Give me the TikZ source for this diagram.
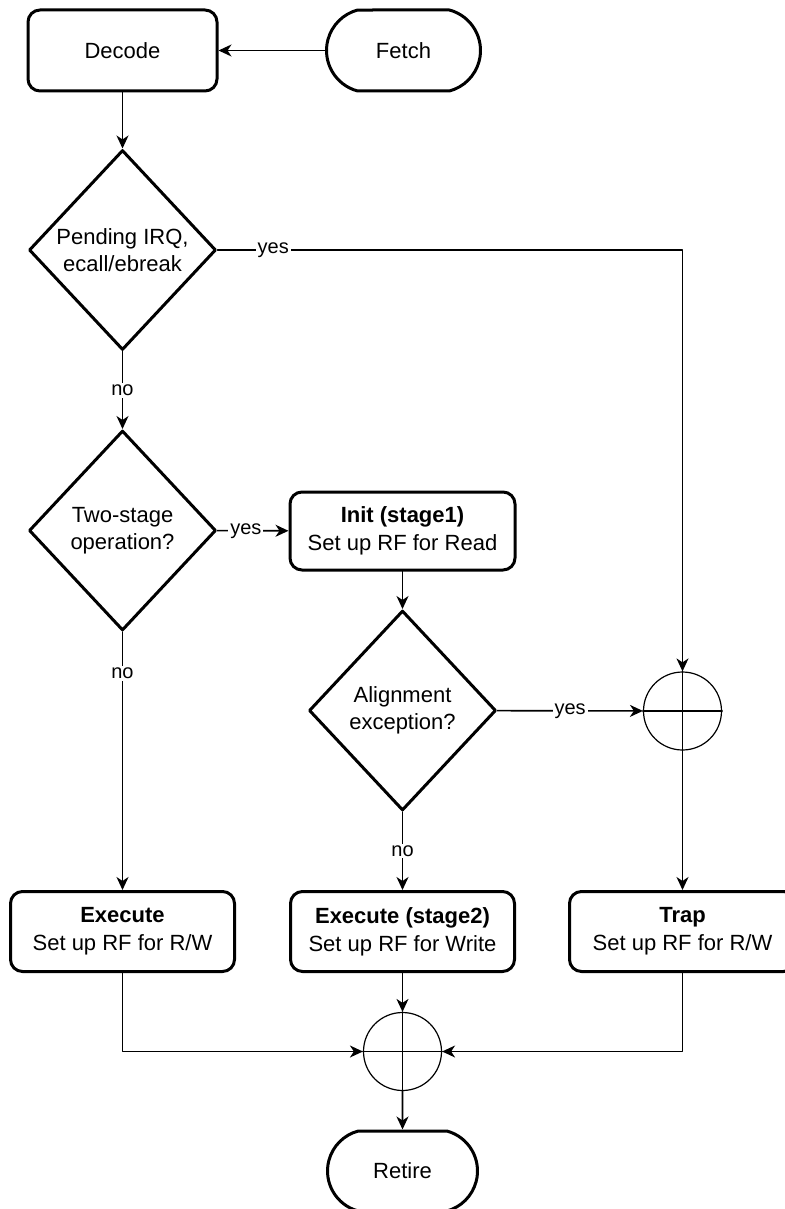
\documentclass[tikz,border=0pt]{standalone}
\usepackage{fontspec}
\setmainfont{Liberation Sans}
\usetikzlibrary{shapes.geometric,shapes.misc,arrows.meta}

\begin{document}
\begin{tikzpicture}[x=0.5pt,y=-0.5pt,line cap=round,line join=round,
  font=\fontsize{11}{14}\selectfont,
  box/.style={draw,line width=1.5pt,rounded corners=6pt,minimum width=112pt,minimum height=40pt,inner sep=0pt,align=center},
  term/.style={draw,line width=1.5pt,rounded rectangle,rounded rectangle arc length=150,minimum height=40.5pt,inner sep=0pt},
  decision/.style={draw,line width=1.5pt,diamond,minimum width=93.5pt,minimum height=100pt,inner sep=0pt,align=center,font=\fontsize{11}{13.5}\selectfont},
  junction/.style={draw,line width=0.6pt,circle,minimum size=39pt,inner sep=0pt},
  flow/.style={line width=0.8pt,-{Stealth[length=6.5pt,width=6pt,inset=2pt]}},
  lbl/.style={fill=white,inner sep=1pt,font=\fontsize{10}{12}\selectfont}]
\clip (0,0) rectangle (785,1209);
\useasboundingbox (0,0) rectangle (785,1209);
% top row
\node[box,minimum width=94.5pt,minimum height=40.5pt] (decode) at (122.5,50.5) {Decode};
\node[term,minimum width=77pt] (fetch) at (403.5,50.5) {Fetch};
% decisions
\node[decision] (irq) at (122.5,250) {Pending IRQ,\\ecall/ebreak};
\node[decision] (twostage) at (122.5,530.5) {Two-stage\\operation?};
\node[box,minimum width=112.5pt,minimum height=39pt] (init) at (402.5,531) {\textbf{Init (stage1)}\\Set up RF for Read};
\node[decision] (align) at (402.5,710.5) {Alignment\\exception?};
\node[junction] (joinA) at (682.5,711) {};
% bottom row
\node[box] (exec) at (122.5,931.5) {\textbf{Execute}\\Set up RF for R/W};
\node[box] (exectwo) at (402.5,931.5) {\textbf{Execute (stage2)}\\Set up RF for Write};
\node[box,minimum width=113pt] (trap) at (682.5,931.5) {\textbf{Trap}\\Set up RF for R/W};
\node[junction] (joinB) at (402.5,1051.5) {};
\node[term,minimum width=75pt,minimum height=40pt] (retire) at (402.5,1171) {Retire};
% crosses in the junctions
\draw[line width=0.8pt] (joinA.north) -- (joinA.south) (joinA.west) -- (joinA.east);
\draw[line width=0.8pt] (joinB.north) -- (joinB.south) (joinB.west) -- (joinB.east);
% connectors
\draw[flow] (fetch) -- (decode);
\draw[flow] (decode) -- (irq);
\draw[flow] (irq.east) -| node[lbl,pos=0.06]{yes} (joinA.north);
\draw[flow] (irq) -- node[lbl]{no} (twostage);
\draw[flow] (twostage) -- node[lbl,pos=0.4]{yes} (init);
\draw[flow] (twostage) -- node[lbl,pos=0.16]{no} (exec);
\draw[flow] (init) -- (align);
\draw[flow] (align) -- node[lbl]{yes} (joinA);
\draw[flow] (align) -- node[lbl]{no} (exectwo);
\draw[flow] (joinA) -- (trap);
\draw[flow] (exec) |- (joinB);
\draw[flow] (exectwo) -- (joinB);
\draw[flow] (trap) |- (joinB);
\draw[flow] (joinB) -- (retire);
\end{tikzpicture}
\end{document}
